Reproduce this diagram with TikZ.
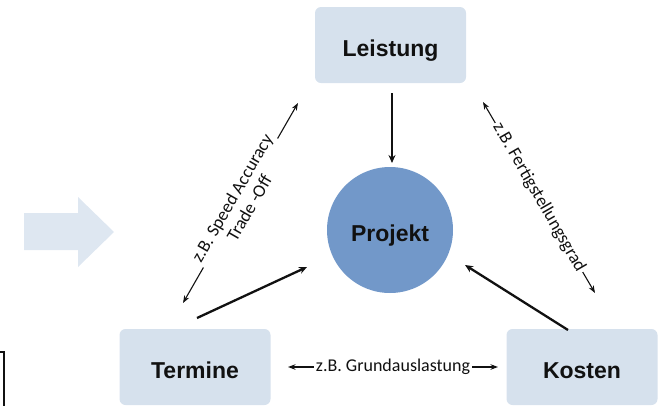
\documentclass[tikz,border=0pt]{standalone}
\usepackage{fontspec}
\setmainfont{Carlito}
\newfontfamily\boxfont{Liberation Sans}
\usetikzlibrary{arrows.meta}
\definecolor{boxblue}{RGB}{214,225,237}
\definecolor{circblue}{RGB}{114,152,201}
\definecolor{arrowblue}{RGB}{222,231,241}
\definecolor{inkblack}{RGB}{17,17,17}
\begin{document}
\begin{tikzpicture}[x=1pt,y=-1pt,
  box/.style={fill=boxblue,rounded corners=6pt,minimum width=151pt,minimum height=76pt,inner sep=0pt,
    text height=23pt,text depth=0pt,
    text=inkblack,font=\boxfont\bfseries\fontsize{23}{26}\selectfont},
  hub/.style={circle,fill=circblue,minimum size=126pt,inner sep=0pt,
    text height=23pt,text depth=0pt,
    text=inkblack,font=\boxfont\bfseries\fontsize{23}{26}\selectfont},
  twoway/.style={line width=1.1pt,draw=inkblack,{Stealth[length=7.5pt,width=5.5pt]}-{Stealth[length=7.5pt,width=5.5pt]}},
  oneway/.style={line width=2.3pt,draw=inkblack,-{Stealth[length=8pt,width=7pt]}},
  lbl/.style={fill=white,inner sep=2pt,text=inkblack,align=center,font=\fontsize{18}{20}\selectfont}]
\useasboundingbox (0,0) rectangle (659,405);
% big pale arrow
\fill[arrowblue] (24,213) -- (78,213) -- (78,197) -- (114,232) -- (78,267) -- (78,250) -- (24,250) -- cycle;
% bracket at lower left
\draw[line width=2.4pt,draw=inkblack] (-1,352) -- (4,352) -- (4,406);
% nodes
\node[box] (L) at (390.5,45) {Leistung};
\node[box] (T) at (195,367) {Termine};
\node[box] (K) at (582,367) {Kosten};
\node[hub] (P) at (390,230) {Projekt};
% arrow ends
\coordinate (lt) at (392,93);
\coordinate (lb) at (392,163);
\coordinate (t1) at (197,318);
\coordinate (t2) at (307,267);
\coordinate (k1) at (568,330);
\coordinate (k2) at (465,265);
\coordinate (a1) at (183,303);
\coordinate (a2) at (298,103);
\coordinate (b1) at (483,102);
\coordinate (b2) at (595,293);
\coordinate (c1) at (288,367);
\coordinate (c2) at (498,367);
% connectors into Projekt
\draw[oneway] (lt) -- (lb);
\draw[oneway] (t1) -- (t2);
\draw[oneway] (k1) -- (k2);
% labelled two-way connectors
\draw[twoway] (a1) -- node[lbl,rotate=60] (la) {z.B. Speed Accuracy\\Trade -Off} (a2);
\draw[twoway] (b1) -- node[lbl,rotate=-60] (lb2) {z.B. Fertigstellungsgrad} (b2);
\draw[twoway] (c1) -- node[lbl] (lc) {z.B. Grundauslastung} (c2);
\end{tikzpicture}
\end{document}
